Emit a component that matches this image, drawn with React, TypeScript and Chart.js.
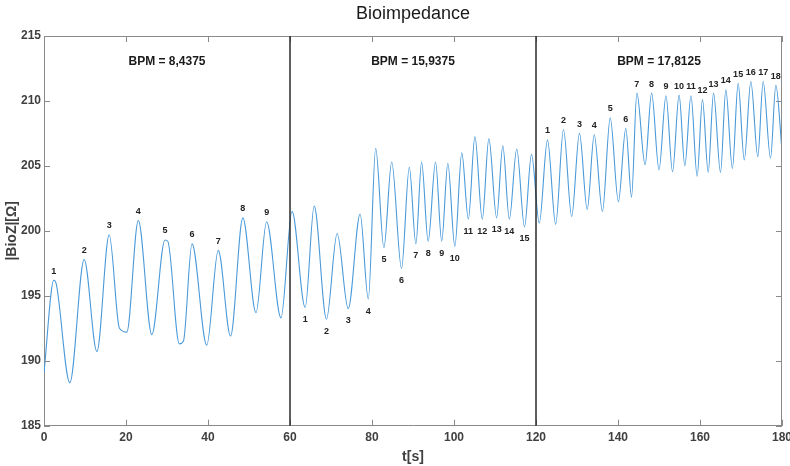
import { useEffect, useRef } from 'react';
import { Chart, registerables } from 'chart.js';

Chart.register(...registerables);

// ---- Data ----
const timeS = [
  0, 2.4, 3.0, 6.3, 9.8, 12.9, 15.9, 18.4, 20.2, 23.0, 26.3, 29.5, 30.2, 33.0, 34.0, 36.1, 39.7, 42.5, 45.5,
  48.5, 51.7, 54.3, 57.8, 60.5,
  63.7, 65.9, 68.9, 71.5, 74.2, 77.1, 79.1, 80.9, 82.9, 84.8, 87.2, 89.1, 90.7, 92.1, 93.7, 95.5, 97.0,
  98.5, 100.2, 101.9, 103.5, 105.1, 106.9, 108.5, 110.4, 111.9, 113.5, 115.3, 117.2, 118.9, 120.8,
  122.8, 124.8, 126.7, 128.7, 130.6, 132.5, 134.2, 136.2, 138.1, 140.1, 141.9, 143.3, 144.6, 146.6,
  148.2, 150.0, 151.7, 153.3, 154.9, 156.3, 157.8, 159.3, 160.6, 162.0, 163.3, 165.0, 166.3, 167.9,
  169.3, 170.8, 172.4, 174.1, 175.4, 177.2, 178.5, 180,
];
const bioZ = [
  189.1, 196.2, 195.9, 188.3, 197.8, 190.7, 199.7, 192.5, 192.2, 200.8, 192.0, 199.3, 199.2, 191.3, 191.5, 199.0, 191.2, 198.5, 191.9,
  201.0, 193.7, 200.7, 193.3, 201.5,
  194.1, 201.9, 193.2, 199.8, 194.0, 201.3, 194.75, 206.35, 198.7, 205.3, 197.1, 204.9, 199.0, 205.3, 199.2, 205.3, 199.2,
  205.2, 198.8, 206.0, 200.9, 207.25, 200.9, 207.1, 201.0, 206.55, 200.9, 206.3, 200.3, 205.9, 200.6,
  207.0, 200.5, 207.8, 201.1, 207.5, 201.65, 207.4, 201.5, 208.7, 202.25, 207.9, 202.6, 210.6, 205.1,
  210.6, 204.7, 210.4, 204.55, 210.45, 205.0, 210.4, 204.2, 210.1, 204.5, 210.6, 204.5, 210.85, 204.8,
  211.35, 205.45, 211.5, 205.7, 211.5, 205.6, 211.2, 206.2,
];

const sectionBounds = [60, 120];
const bpmTexts = ['BPM = 8,4375', 'BPM = 15,9375', 'BPM = 17,8125'];
const bpmCenterT = [30, 90, 150];
const bpmLevel = 213;

const seg1PeakT = [2.4, 9.8, 15.9, 23.0, 29.5, 36.1, 42.5, 48.5, 54.3];
const seg2TroughT = [63.7, 68.9, 74.2, 79.1, 82.9, 87.2, 90.7, 93.7, 97.0, 100.2, 103.5, 106.9, 110.4, 113.5, 117.2];
const seg3PeakT = [
  122.8, 126.7, 130.6, 134.2, 138.1, 141.9, 144.6, 148.2, 151.7, 154.9, 157.8, 160.6, 163.3, 166.3,
  169.3, 172.4, 175.4, 178.5,
];

const titleText = 'Bioimpedance';
const xTitle = 't[s]';
const yTitle = '|BioZ|[Ω]';

const FONT = '"Liberation Sans", Arial, Helvetica, sans-serif';

function valueAt(t: number): number {
  let best = 0;
  for (let i = 1; i < timeS.length; i++) {
    if (Math.abs(timeS[i] - t) < Math.abs(timeS[best] - t)) best = i;
  }
  return bioZ[best];
}

const overlayPlugin = {
  id: 'overlay',
  afterDraw(chart: any) {
    const { ctx, chartArea: a, scales } = chart;
    const x = scales.x;
    const y = scales.y;
    ctx.save();

    // box top & right
    ctx.strokeStyle = '#8a8a8a';
    ctx.lineWidth = 1;
    ctx.beginPath();
    ctx.moveTo(a.left, Math.round(a.top) + 0.5);
    ctx.lineTo(a.right, Math.round(a.top) + 0.5);
    ctx.moveTo(Math.round(a.right) - 0.5, a.top);
    ctx.lineTo(Math.round(a.right) - 0.5, a.bottom);
    ctx.stroke();

    // inward ticks
    const tl = 6;
    ctx.beginPath();
    x.ticks.forEach((tk: any) => {
      const px = Math.round(x.getPixelForValue(tk.value)) + 0.5;
      ctx.moveTo(px, a.bottom);
      ctx.lineTo(px, a.bottom - tl);
      ctx.moveTo(px, a.top);
      ctx.lineTo(px, a.top + tl);
    });
    y.ticks.forEach((tk: any) => {
      const py = Math.round(y.getPixelForValue(tk.value)) + 0.5;
      ctx.moveTo(a.left, py);
      ctx.lineTo(a.left + tl, py);
      ctx.moveTo(a.right, py);
      ctx.lineTo(a.right - tl, py);
    });
    ctx.stroke();

    // section boundaries
    ctx.strokeStyle = '#2b2b2b';
    ctx.lineWidth = 1.5;
    ctx.beginPath();
    sectionBounds.forEach((t) => {
      const px = x.getPixelForValue(t);
      ctx.moveTo(px, a.top);
      ctx.lineTo(px, a.bottom);
    });
    ctx.stroke();

    // title
    ctx.fillStyle = '#1a1a1a';
    ctx.textAlign = 'center';
    ctx.textBaseline = 'middle';
    ctx.font = `18px ${FONT}`;
    ctx.fillText(titleText, (a.left + a.right) / 2, a.top - 22);

    // BPM texts
    ctx.font = `bold 12px ${FONT}`;
    bpmTexts.forEach((txt, i) => {
      ctx.fillText(txt, x.getPixelForValue(bpmCenterT[i]), y.getPixelForValue(bpmLevel));
    });

    // numbered labels
    ctx.fillStyle = '#222';
    ctx.font = `bold 9px ${FONT}`;
    seg1PeakT.forEach((t, i) => {
      ctx.fillText(String(i + 1), x.getPixelForValue(t), y.getPixelForValue(valueAt(t)) - 9);
    });
    seg2TroughT.forEach((t, i) => {
      ctx.fillText(String(i + 1), x.getPixelForValue(t), y.getPixelForValue(valueAt(t)) + 12);
    });
    seg3PeakT.forEach((t, i) => {
      ctx.fillText(String(i + 1), x.getPixelForValue(t), y.getPixelForValue(valueAt(t)) - 9);
    });

    ctx.restore();
  },
};

export default function App() {
  const canvasRef = useRef<HTMLCanvasElement | null>(null);

  useEffect(() => {
    const canvas = canvasRef.current;
    if (!canvas) return;
    Chart.defaults.font.family = FONT;
    const chart = new Chart(canvas, {
      type: 'line',
      data: {
        datasets: [
          {
            data: timeS.map((t, i) => ({ x: t, y: bioZ[i] })),
            borderColor: 'rgb(74,154,218)',
            borderWidth: 1.1,
            pointRadius: 0,
            cubicInterpolationMode: 'monotone',
            fill: false,
          },
        ],
      },
      options: {
        responsive: false,
        animation: false,
        devicePixelRatio: 1,
        layout: { padding: { top: 36, right: 8, left: 0, bottom: 0 } },
        plugins: { legend: { display: false }, tooltip: { enabled: false }, title: { display: false } },
        scales: {
          x: {
            type: 'linear',
            min: 0,
            max: 180,
            ticks: { stepSize: 20, color: '#404040', font: { size: 12, weight: 'bold' }, padding: 5, maxRotation: 0 },
            grid: { display: false, drawTicks: false },
            border: { display: true, color: '#8a8a8a', width: 1 },
            title: { display: true, text: xTitle, color: '#404040', font: { size: 14, weight: 'bold' }, padding: { top: 3, bottom: 0 } },
            afterFit(s: any) {
              s.height = 40.3;
              s.paddingLeft = 0;
              s.paddingRight = 0;
            },
          },
          y: {
            type: 'linear',
            min: 185,
            max: 215,
            ticks: { stepSize: 5, color: '#404040', font: { size: 12, weight: 'bold' }, padding: 3 },
            grid: { display: false, drawTicks: false },
            border: { display: true, color: '#8a8a8a', width: 1 },
            title: { display: true, text: yTitle, color: '#404040', font: { size: 14, weight: 'bold' }, padding: { top: 4, bottom: 0 } },
            afterFit(s: any) {
              s.width = 44;
              s.paddingTop = 0;
              s.paddingBottom = 0;
            },
          },
        },
      },
      plugins: [overlayPlugin],
    } as any);
    return () => chart.destroy();
  }, []);

  return (
    <div style={{ position: 'fixed', left: 0, top: 0, width: 790, height: 466, background: '#fff' }}>
      <canvas ref={canvasRef} width={790} height={466} style={{ display: 'block' }} />
    </div>
  );
}
